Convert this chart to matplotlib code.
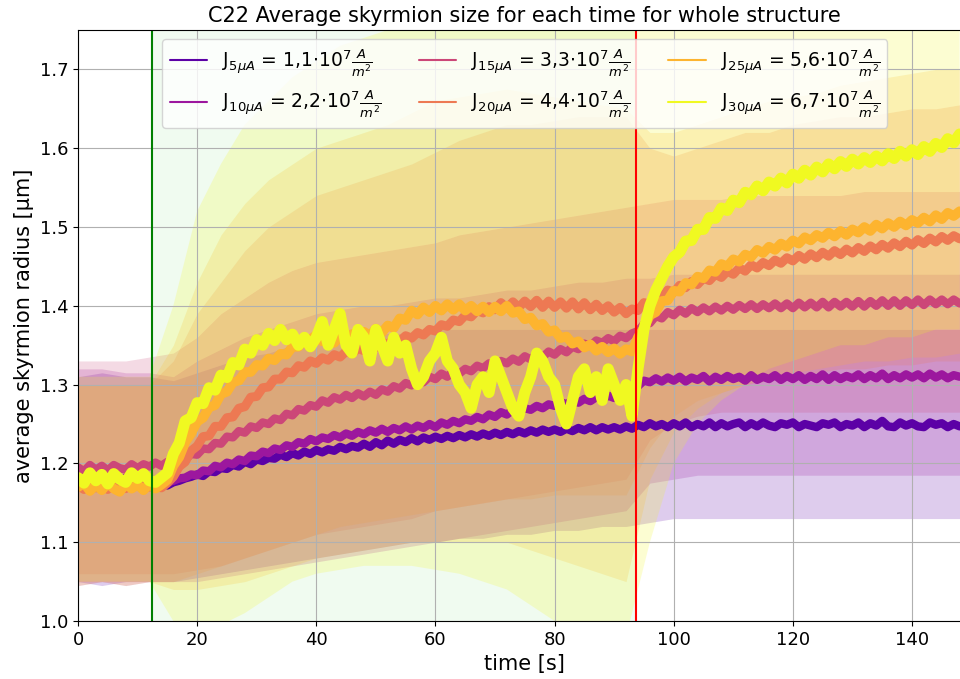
import numpy as np
import matplotlib
matplotlib.use("Agg")
import matplotlib.pyplot as plt

# time axis of the averaged traces (1 s step) and of the spread bands (4 s step)
t = np.arange(0, 149, 1.0)
t_band = np.arange(0, 149, 4.0)

labels = [
    r"J$_{5\mu A}$ = 1,1$\cdot10^7\frac{A}{m^2}$",
    r"J$_{10\mu A}$ = 2,2$\cdot10^7\frac{A}{m^2}$",
    r"J$_{15\mu A}$ = 3,3$\cdot10^7\frac{A}{m^2}$",
    r"J$_{20\mu A}$ = 4,4$\cdot10^7\frac{A}{m^2}$",
    r"J$_{25\mu A}$ = 5,6$\cdot10^7\frac{A}{m^2}$",
    r"J$_{30\mu A}$ = 6,7$\cdot10^7\frac{A}{m^2}$",
]

# average skyrmion radius [um]
r_j5 = [
    1.178, 1.172, 1.180, 1.174, 1.179, 1.171, 1.179, 1.175, 1.172, 1.180,
    1.174, 1.178, 1.176, 1.173, 1.177, 1.172, 1.176, 1.178, 1.181, 1.183,
    1.186, 1.184, 1.190, 1.189, 1.194, 1.193, 1.198, 1.196, 1.202, 1.199,
    1.205, 1.203, 1.207, 1.206, 1.211, 1.208, 1.213, 1.210, 1.215, 1.212,
    1.217, 1.214, 1.218, 1.216, 1.221, 1.218, 1.222, 1.220, 1.225, 1.221,
    1.227, 1.223, 1.229, 1.225, 1.230, 1.227, 1.232, 1.228, 1.233, 1.230,
    1.234, 1.231, 1.235, 1.232, 1.236, 1.233, 1.237, 1.234, 1.238, 1.235,
    1.239, 1.236, 1.240, 1.237, 1.241, 1.238, 1.242, 1.239, 1.243, 1.240,
    1.243, 1.240, 1.244, 1.241, 1.245, 1.242, 1.246, 1.242, 1.246, 1.243,
    1.246, 1.243, 1.247, 1.244, 1.249, 1.246, 1.251, 1.247, 1.250, 1.246,
    1.251, 1.247, 1.252, 1.246, 1.250, 1.247, 1.252, 1.246, 1.251, 1.247,
    1.250, 1.252, 1.246, 1.251, 1.247, 1.252, 1.248, 1.246, 1.251, 1.249,
    1.252, 1.246, 1.250, 1.248, 1.246, 1.251, 1.249, 1.252, 1.246, 1.250,
    1.248, 1.252, 1.246, 1.251, 1.248, 1.254, 1.247, 1.246, 1.252, 1.248,
    1.251, 1.247, 1.246, 1.252, 1.249, 1.251, 1.246, 1.250, 1.247,
]
r_j10 = [
    1.180, 1.176, 1.183, 1.178, 1.182, 1.175, 1.181, 1.177, 1.182, 1.178,
    1.181, 1.177, 1.180, 1.176, 1.179, 1.176, 1.178, 1.181, 1.182, 1.186,
    1.185, 1.191, 1.190, 1.197, 1.195, 1.201, 1.199, 1.205, 1.203, 1.210,
    1.209, 1.215, 1.213, 1.219, 1.217, 1.223, 1.221, 1.227, 1.225, 1.231,
    1.228, 1.233, 1.231, 1.236, 1.233, 1.238, 1.235, 1.240, 1.237, 1.242,
    1.239, 1.244, 1.240, 1.245, 1.242, 1.247, 1.243, 1.248, 1.245, 1.250,
    1.246, 1.252, 1.249, 1.254, 1.251, 1.256, 1.254, 1.259, 1.256, 1.262,
    1.259, 1.265, 1.262, 1.268, 1.265, 1.270, 1.268, 1.273, 1.270, 1.275,
    1.273, 1.278, 1.275, 1.280, 1.277, 1.282, 1.279, 1.284, 1.281, 1.286,
    1.283, 1.288, 1.285, 1.290, 1.298, 1.305, 1.303, 1.308, 1.304, 1.309,
    1.305, 1.310, 1.304, 1.309, 1.306, 1.311, 1.304, 1.310, 1.306, 1.311,
    1.307, 1.310, 1.305, 1.312, 1.306, 1.310, 1.307, 1.312, 1.306, 1.311,
    1.307, 1.312, 1.306, 1.311, 1.307, 1.313, 1.306, 1.312, 1.307, 1.311,
    1.308, 1.313, 1.307, 1.312, 1.308, 1.314, 1.307, 1.312, 1.308, 1.313,
    1.309, 1.313, 1.308, 1.314, 1.309, 1.313, 1.308, 1.312, 1.310,
]
r_j15 = [
    1.195, 1.190, 1.198, 1.192, 1.197, 1.191, 1.198, 1.194, 1.192, 1.199,
    1.194, 1.199, 1.196, 1.201, 1.197, 1.202, 1.199, 1.204, 1.205, 1.212,
    1.211, 1.219, 1.218, 1.226, 1.225, 1.234, 1.233, 1.241, 1.239, 1.247,
    1.245, 1.252, 1.250, 1.257, 1.255, 1.263, 1.261, 1.269, 1.267, 1.274,
    1.272, 1.280, 1.277, 1.284, 1.281, 1.287, 1.283, 1.289, 1.285, 1.291,
    1.287, 1.294, 1.291, 1.298, 1.295, 1.302, 1.299, 1.306, 1.303, 1.310,
    1.307, 1.314, 1.310, 1.317, 1.314, 1.320, 1.317, 1.324, 1.321, 1.327,
    1.324, 1.330, 1.327, 1.333, 1.329, 1.336, 1.332, 1.339, 1.335, 1.342,
    1.338, 1.345, 1.341, 1.348, 1.345, 1.352, 1.349, 1.356, 1.353, 1.359,
    1.355, 1.362, 1.359, 1.365, 1.368, 1.377, 1.378, 1.387, 1.384, 1.392,
    1.388, 1.395, 1.390, 1.397, 1.392, 1.398, 1.393, 1.399, 1.394, 1.400,
    1.395, 1.401, 1.396, 1.402, 1.396, 1.402, 1.397, 1.403, 1.397, 1.403,
    1.397, 1.404, 1.398, 1.404, 1.398, 1.405, 1.398, 1.405, 1.399, 1.405,
    1.399, 1.406, 1.399, 1.406, 1.400, 1.407, 1.400, 1.407, 1.400, 1.407,
    1.401, 1.408, 1.401, 1.408, 1.402, 1.408, 1.402, 1.408, 1.403,
]
r_j20 = [
    1.172, 1.167, 1.175, 1.169, 1.174, 1.167, 1.175, 1.170, 1.168, 1.176,
    1.171, 1.175, 1.170, 1.174, 1.169, 1.175, 1.183, 1.196, 1.202, 1.216,
    1.222, 1.234, 1.235, 1.247, 1.247, 1.258, 1.259, 1.270, 1.272, 1.284,
    1.285, 1.296, 1.297, 1.307, 1.307, 1.316, 1.315, 1.324, 1.322, 1.330,
    1.327, 1.334, 1.331, 1.338, 1.335, 1.342, 1.339, 1.346, 1.343, 1.350,
    1.347, 1.354, 1.351, 1.358, 1.355, 1.362, 1.359, 1.366, 1.363, 1.370,
    1.368, 1.376, 1.374, 1.382, 1.380, 1.388, 1.386, 1.394, 1.391, 1.399,
    1.395, 1.404, 1.397, 1.405, 1.398, 1.406, 1.399, 1.407, 1.398, 1.406,
    1.398, 1.405, 1.397, 1.405, 1.396, 1.404, 1.395, 1.402, 1.394, 1.400,
    1.392, 1.398, 1.390, 1.396, 1.394, 1.404, 1.402, 1.412, 1.410, 1.420,
    1.417, 1.426, 1.423, 1.431, 1.427, 1.435, 1.432, 1.440, 1.436, 1.444,
    1.440, 1.448, 1.444, 1.452, 1.448, 1.455, 1.451, 1.458, 1.454, 1.461,
    1.457, 1.464, 1.459, 1.466, 1.461, 1.468, 1.463, 1.470, 1.465, 1.472,
    1.467, 1.474, 1.469, 1.476, 1.471, 1.478, 1.473, 1.480, 1.475, 1.482,
    1.477, 1.484, 1.479, 1.486, 1.481, 1.488, 1.483, 1.489, 1.485,
]
r_j25 = [
    1.170, 1.175, 1.165, 1.173, 1.166, 1.175, 1.168, 1.164, 1.174, 1.168,
    1.173, 1.166, 1.174, 1.168, 1.173, 1.179, 1.197, 1.208, 1.227, 1.238,
    1.253, 1.258, 1.271, 1.274, 1.288, 1.291, 1.303, 1.305, 1.316, 1.316,
    1.325, 1.324, 1.333, 1.331, 1.339, 1.338, 1.348, 1.348, 1.358, 1.357,
    1.363, 1.355, 1.360, 1.353, 1.361, 1.355, 1.364, 1.358, 1.367, 1.362,
    1.371, 1.366, 1.375, 1.372, 1.384, 1.382, 1.394, 1.389, 1.398, 1.392,
    1.400, 1.394, 1.402, 1.395, 1.402, 1.394, 1.400, 1.393, 1.399, 1.392,
    1.399, 1.393, 1.400, 1.391, 1.393, 1.383, 1.385, 1.375, 1.377, 1.367,
    1.369, 1.359, 1.361, 1.352, 1.355, 1.347, 1.351, 1.343, 1.348, 1.341,
    1.346, 1.339, 1.345, 1.342, 1.360, 1.372, 1.388, 1.392, 1.406, 1.407,
    1.419, 1.418, 1.429, 1.427, 1.437, 1.435, 1.445, 1.443, 1.453, 1.450,
    1.459, 1.456, 1.465, 1.462, 1.471, 1.467, 1.475, 1.471, 1.479, 1.475,
    1.483, 1.479, 1.487, 1.483, 1.490, 1.486, 1.493, 1.488, 1.495, 1.490,
    1.497, 1.493, 1.500, 1.495, 1.503, 1.498, 1.505, 1.500, 1.507, 1.502,
    1.509, 1.505, 1.512, 1.507, 1.515, 1.510, 1.518, 1.514, 1.520,
]
r_j30 = [
    1.182, 1.175, 1.188, 1.178, 1.186, 1.174, 1.187, 1.180, 1.176, 1.188,
    1.181, 1.187, 1.178, 1.176, 1.182, 1.188, 1.212, 1.226, 1.254, 1.258,
    1.277, 1.276, 1.296, 1.293, 1.312, 1.309, 1.328, 1.325, 1.345, 1.340,
    1.357, 1.350, 1.365, 1.356, 1.370, 1.357, 1.364, 1.350, 1.360, 1.348,
    1.360, 1.380, 1.350, 1.370, 1.390, 1.350, 1.340, 1.370, 1.360, 1.330,
    1.370, 1.350, 1.330, 1.360, 1.340, 1.350, 1.320, 1.300, 1.310, 1.330,
    1.340, 1.360, 1.330, 1.320, 1.300, 1.290, 1.270, 1.300, 1.310, 1.290,
    1.330, 1.310, 1.290, 1.270, 1.260, 1.290, 1.310, 1.340, 1.330, 1.310,
    1.300, 1.270, 1.250, 1.280, 1.310, 1.320, 1.290, 1.310, 1.280, 1.320,
    1.300, 1.280, 1.300, 1.260, 1.320, 1.370, 1.400, 1.420, 1.435, 1.450,
    1.462, 1.468, 1.482, 1.483, 1.497, 1.497, 1.512, 1.511, 1.524, 1.521,
    1.534, 1.531, 1.544, 1.541, 1.552, 1.546, 1.557, 1.552, 1.562, 1.556,
    1.567, 1.562, 1.572, 1.566, 1.576, 1.570, 1.580, 1.574, 1.583, 1.577,
    1.586, 1.580, 1.588, 1.582, 1.590, 1.584, 1.593, 1.587, 1.596, 1.590,
    1.598, 1.592, 1.602, 1.596, 1.606, 1.601, 1.612, 1.607, 1.618,
]

# spread of the radius over all skyrmions (mean - std, mean + std), 4 s step
lo_j5 = [1.050, 1.045, 1.050, 1.050, 1.050, 1.055, 1.060, 1.065, 1.070, 1.075,
         1.080, 1.085, 1.090, 1.095, 1.100, 1.100, 1.105, 1.105, 1.110, 1.110,
         1.115, 1.115, 1.120, 1.120, 1.125, 1.130, 1.130, 1.130, 1.130, 1.130,
         1.130, 1.130, 1.130, 1.130, 1.130, 1.130, 1.130, 1.130]
hi_j5 = [1.310, 1.315, 1.310, 1.310, 1.305, 1.315, 1.325, 1.335, 1.340, 1.350,
         1.355, 1.360, 1.360, 1.365, 1.365, 1.370, 1.370, 1.370, 1.370, 1.370,
         1.370, 1.370, 1.370, 1.370, 1.370, 1.370, 1.370, 1.370, 1.370, 1.370,
         1.370, 1.370, 1.370, 1.370, 1.370, 1.370, 1.370, 1.370]
lo_j10 = [1.045, 1.050, 1.045, 1.050, 1.050, 1.050, 1.055, 1.060, 1.065, 1.070,
          1.075, 1.080, 1.085, 1.090, 1.095, 1.100, 1.105, 1.110, 1.115, 1.120,
          1.125, 1.130, 1.135, 1.140, 1.175, 1.180, 1.185, 1.185, 1.185, 1.185,
          1.185, 1.185, 1.185, 1.185, 1.185, 1.185, 1.185, 1.185]
hi_j10 = [1.320, 1.320, 1.315, 1.315, 1.310, 1.330, 1.345, 1.360, 1.370, 1.380,
          1.390, 1.395, 1.400, 1.400, 1.405, 1.410, 1.410, 1.415, 1.420, 1.420,
          1.425, 1.430, 1.430, 1.435, 1.435, 1.440, 1.440, 1.440, 1.440, 1.440,
          1.440, 1.440, 1.440, 1.440, 1.440, 1.440, 1.440, 1.440]
lo_j15 = [1.060, 1.060, 1.060, 1.060, 1.060, 1.065, 1.070, 1.080, 1.090, 1.100,
          1.110, 1.115, 1.120, 1.125, 1.130, 1.140, 1.145, 1.150, 1.155, 1.160,
          1.165, 1.170, 1.175, 1.180, 1.230, 1.250, 1.260, 1.265, 1.265, 1.265,
          1.265, 1.265, 1.265, 1.265, 1.265, 1.265, 1.265, 1.265]
hi_j15 = [1.330, 1.330, 1.330, 1.335, 1.340, 1.360, 1.390, 1.410, 1.430, 1.445,
          1.455, 1.460, 1.465, 1.470, 1.475, 1.480, 1.490, 1.495, 1.500, 1.505,
          1.510, 1.515, 1.520, 1.525, 1.530, 1.535, 1.535, 1.535, 1.540, 1.540,
          1.540, 1.540, 1.540, 1.545, 1.545, 1.545, 1.545, 1.545]
lo_j20 = [1.050, 1.050, 1.050, 1.050, 1.050, 1.060, 1.070, 1.080, 1.090, 1.100,
          1.110, 1.120, 1.125, 1.130, 1.135, 1.140, 1.145, 1.150, 1.155, 1.155,
          1.160, 1.160, 1.160, 1.160, 1.220, 1.260, 1.280, 1.290, 1.300, 1.305,
          1.310, 1.315, 1.320, 1.320, 1.325, 1.325, 1.330, 1.330]
hi_j20 = [1.300, 1.300, 1.300, 1.300, 1.330, 1.390, 1.430, 1.470, 1.500, 1.520,
          1.540, 1.550, 1.560, 1.570, 1.580, 1.595, 1.610, 1.620, 1.630, 1.630,
          1.635, 1.640, 1.640, 1.640, 1.600, 1.590, 1.600, 1.610, 1.620, 1.620,
          1.630, 1.635, 1.640, 1.640, 1.645, 1.650, 1.650, 1.655]
lo_j25 = [1.045, 1.050, 1.045, 1.050, 1.040, 1.040, 1.045, 1.050, 1.060, 1.070,
          1.080, 1.085, 1.090, 1.095, 1.100, 1.100, 1.100, 1.100, 1.100, 1.090,
          1.080, 1.070, 1.060, 1.050, 1.180, 1.240, 1.270, 1.290, 1.300, 1.310,
          1.315, 1.320, 1.325, 1.330, 1.330, 1.335, 1.335, 1.340]
hi_j25 = [1.300, 1.300, 1.300, 1.300, 1.350, 1.430, 1.490, 1.530, 1.560, 1.580,
          1.600, 1.610, 1.620, 1.630, 1.645, 1.660, 1.665, 1.670, 1.675, 1.670,
          1.665, 1.660, 1.655, 1.650, 1.620, 1.620, 1.630, 1.640, 1.650, 1.660,
          1.665, 1.670, 1.680, 1.685, 1.690, 1.695, 1.700, 1.700]
lo_j30 = [1.050, 1.050, 1.050, 1.050, 1.000, 0.990, 0.995, 1.010, 1.030, 1.050,
          1.060, 1.065, 1.070, 1.070, 1.070, 1.065, 1.060, 1.050, 1.040, 1.020,
          1.000, 0.985, 0.980, 0.980, 1.100, 1.200, 1.250, 1.280, 1.300, 1.320,
          1.330, 1.340, 1.350, 1.350, 1.360, 1.360, 1.370, 1.370]
hi_j30 = [1.310, 1.310, 1.310, 1.310, 1.400, 1.520, 1.580, 1.630, 1.660, 1.690,
          1.710, 1.730, 1.740, 1.750, 1.760, 1.760, 1.760, 1.760, 1.760, 1.760,
          1.760, 1.760, 1.760, 1.760, 1.750, 1.760, 1.770, 1.780, 1.790, 1.800,
          1.810, 1.815, 1.820, 1.825, 1.830, 1.840, 1.845, 1.850]

means = [r_j5, r_j10, r_j15, r_j20, r_j25, r_j30]
lows = [lo_j5, lo_j10, lo_j15, lo_j20, lo_j25, lo_j30]
highs = [hi_j5, hi_j10, hi_j15, hi_j20, hi_j25, hi_j30]

# current switched on / off
t_on = 12.4
t_off = 93.7

colors = plt.cm.plasma(np.linspace(0, 1, 7)[1:])
trace_width = [6, 6, 6, 6.5, 7, 8]

fig = plt.figure(figsize=(9.6, 6.79), dpi=100)
ax = fig.add_axes([0.08125, 0.0854, 0.9308, 0.8704])

ax.axvspan(t_on, t_off, color="limegreen", alpha=0.07, lw=0, zorder=0)

for lo, hi, c in zip(lows, highs, colors):
    ax.fill_between(t_band, lo, hi, color=c, alpha=0.2, lw=0)

for r, c, lab, w in zip(means, colors, labels, trace_width):
    ax.plot(t, r, color=c, lw=w, label=lab,
            solid_joinstyle="round", solid_capstyle="round")

ax.axvline(t_on, color="green", lw=1.5)
ax.axvline(t_off, color="red", lw=1.5)

ax.set_xlim(0, 150)
ax.set_ylim(1.0, 1.75)
ax.set_xticks([0, 20, 40, 60, 80, 100, 120, 140])
ax.set_yticks([1.0, 1.1, 1.2, 1.3, 1.4, 1.5, 1.6, 1.7])
ax.grid(True)
ax.tick_params(labelsize=13)
ax.set_xlabel("time [s]", fontsize=15)
ax.set_ylabel("average skyrmion radius [μm]", fontsize=15)
ax.set_title("C22 Average skyrmion size for each time for whole structure", fontsize=15)

leg = ax.legend(loc="upper center", ncol=3, fontsize=13.5)
for h in leg.get_lines():
    h.set_linewidth(1.5)

fig.savefig("out.png", dpi=100)
